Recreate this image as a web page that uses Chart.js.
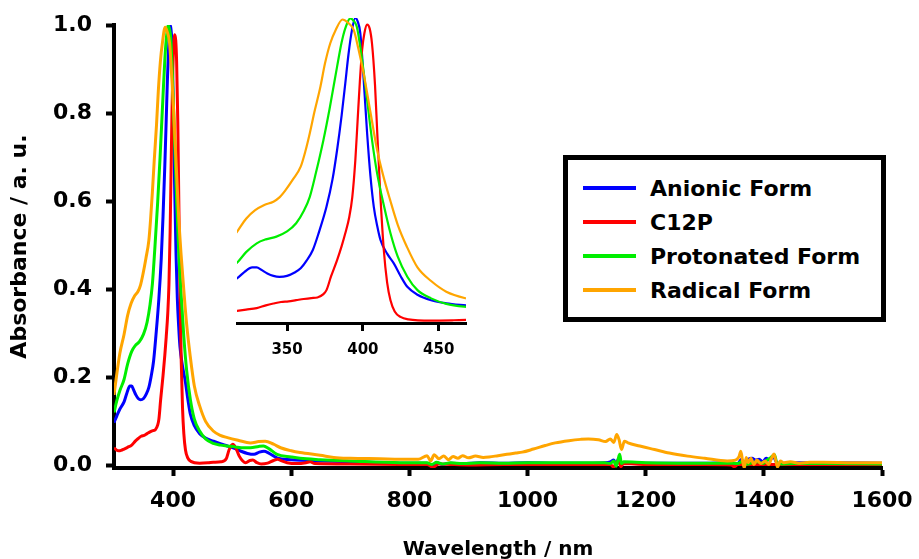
<!DOCTYPE html>
<html><head><meta charset="utf-8">
<script src="https://cdn.jsdelivr.net/npm/chart.js@4.4.1/dist/chart.umd.min.js"></script>
<style>
html,body{margin:0;padding:0;background:#fff;}
#wrap{position:relative;width:919px;height:559px;overflow:hidden;background:#fff;}
#main{position:absolute;left:0;top:0;}
#inset{position:absolute;left:200px;top:0;}
#legend{position:absolute;left:563px;top:155px;width:323px;height:167px;box-sizing:border-box;border:5px solid #000;background:#fff;font:bold 22px "DejaVu Sans";color:#000;}
.row{position:absolute;left:15px;height:34px;display:flex;align-items:center;white-space:nowrap;}
.sw{width:53px;height:4px;margin-right:14px;}
</style>
</head><body>
<div id="wrap">
<canvas id="main" width="919" height="559"></canvas>
<canvas id="inset" width="300" height="370"></canvas>
<div id="legend"></div>
</div>
<script>
// ---------- data ----------
const seriesNames = ['Anionic Form', 'C12P', 'Protonated Form', 'Radical Form'];

const anionicX = [300,305,310,317,322,327,330,333,337,341,345,350,355,359,363,367,371,376,380,383,386,388.4,390.5,392.8,395,396.5,398.3,400.5,402.8,405,407.2,409.5,411.6,416,420.4,425,429.3,436,445,455,468,480,492,505,515,526,537,546,554,562,576,600,649,700,784,830,838,846,856,870,890,920,960,1000,1050,1100,1130,1140,1146,1150,1154,1158,1163,1200,1300,1340,1356,1362,1368,1374,1380,1386,1392,1398,1404,1410,1416,1422,1430,1450,1500,1600];
const anionicY = [0.097,0.113,0.128,0.144,0.165,0.180,0.180,0.172,0.160,0.152,0.149,0.152,0.163,0.177,0.203,0.237,0.295,0.379,0.470,0.566,0.680,0.785,0.880,0.960,1.000,0.990,0.950,0.800,0.621,0.480,0.379,0.315,0.270,0.225,0.193,0.150,0.116,0.090,0.072,0.062,0.055,0.049,0.044,0.038,0.032,0.027,0.025,0.030,0.032,0.028,0.017,0.013,0.010,0.008,0.005,0.005,-0.003,0.006,0.002,0.005,0.004,0.006,0.005,0.006,0.005,0.005,0.006,0.008,0.012,0.002,0.015,0.000,0.006,0.005,0.005,0.006,0.004,0.014,0.002,0.014,0.016,0.012,0.014,0.008,0.016,0.012,0.020,0.006,0.004,0.006,0.006,0.005];

const c12pX = [300,304,308,312,317,323,330,336,341,346,351,356,361,366,370,374,376,379,383,386,388.4,391,393,395,396.5,398,399.5,401,402.8,404.5,406,408,409.5,411.5,413.8,416,418.2,421,424.8,430,445,460,468,481,490,495,501,506,512,518,523,530,535,542,549,560,570,577,584,593,610,625,632,640,700,784,830,840,850,870,900,960,1050,1100,1140,1146,1150,1154,1158,1162,1200,1300,1345,1350,1356,1400,1500,1600];
const c12pY = [0.040,0.035,0.033,0.034,0.037,0.041,0.046,0.055,0.061,0.066,0.068,0.072,0.076,0.079,0.081,0.092,0.105,0.150,0.204,0.250,0.292,0.345,0.410,0.530,0.660,0.790,0.895,0.950,0.978,0.965,0.917,0.780,0.621,0.420,0.237,0.130,0.072,0.035,0.017,0.009,0.005,0.006,0.007,0.008,0.015,0.036,0.048,0.040,0.021,0.010,0.006,0.011,0.012,0.006,0.003,0.005,0.011,0.014,0.010,0.006,0.004,0.006,0.008,0.004,0.003,0.002,0.002,-0.004,0.003,0.002,0.001,0.002,0.002,0.002,0.002,-0.004,0.006,0.010,-0.003,0.004,0.002,0.002,0.001,-0.003,0.002,0.002,0.002,0.002];

const protonatedX = [300,305,310,317,323,330,336,343,350,356,361,365,369,374,378,383,386,388.4,391.7,394,396,399,402.8,406,409.4,414,418.2,423,429.3,436,445,455,468,480,492,505,515,531,545,553,562,576,600,615,649,700,784,830,838,846,856,870,890,920,960,1000,1050,1100,1130,1140,1146,1150,1153,1156,1159,1163,1200,1300,1340,1356,1362,1370,1380,1390,1398,1406,1412,1418,1422,1430,1450,1500,1600];
const protonatedY = [0.120,0.148,0.170,0.195,0.230,0.259,0.272,0.281,0.298,0.325,0.365,0.412,0.490,0.599,0.700,0.840,0.920,0.966,0.999,0.990,0.971,0.880,0.730,0.600,0.489,0.380,0.292,0.215,0.149,0.105,0.078,0.060,0.050,0.046,0.044,0.042,0.040,0.040,0.043,0.044,0.038,0.025,0.019,0.016,0.013,0.010,0.006,0.006,0.002,0.007,0.003,0.006,0.004,0.006,0.005,0.006,0.006,0.006,0.006,0.004,0.010,-0.002,0.012,0.025,0.004,0.008,0.006,0.005,0.005,0.004,0.008,0.002,0.006,0.008,0.004,0.012,0.018,0.024,0.006,0.003,0.004,0.004,0.003];

const radicalX = [300,305,310,317,323,329,335,341,345,349,354,359,362,365,368,372,375,378.5,382,386.6,390,394,397,400.5,405,409.4,413.5,418,423,429,436,445,455,468,480,492,510,531,545,556,570,582,600,615,649,672,700,750,784,815,830,836,842,850,858,866,874,882,890,900,912,925,935,950,965,980,991,1010,1030,1047,1070,1090,1103,1120,1132,1140,1146,1151,1155,1159,1164,1170,1190,1215,1240,1271,1300,1338,1352,1358,1361,1364,1367,1370,1374,1378,1383,1388,1395,1402,1408,1413,1417,1420,1423,1428,1434,1445,1460,1478,1500,1550,1600];
const radicalY = [0.160,0.210,0.255,0.297,0.340,0.368,0.385,0.396,0.410,0.434,0.470,0.511,0.560,0.621,0.690,0.774,0.850,0.917,0.960,0.995,0.985,0.960,0.900,0.818,0.690,0.566,0.480,0.401,0.320,0.248,0.180,0.135,0.100,0.078,0.068,0.063,0.057,0.051,0.054,0.055,0.048,0.040,0.033,0.029,0.023,0.018,0.016,0.015,0.014,0.014,0.022,0.010,0.024,0.015,0.021,0.013,0.020,0.016,0.022,0.017,0.021,0.018,0.019,0.022,0.025,0.028,0.030,0.037,0.045,0.051,0.056,0.059,0.060,0.058,0.054,0.060,0.052,0.070,0.058,0.036,0.055,0.051,0.044,0.036,0.028,0.021,0.016,0.010,0.012,0.020,0.032,0.010,-0.006,0.018,0.006,0.016,0.002,0.012,0.004,0.010,0.002,0.016,0.026,0.012,-0.004,0.010,0.006,0.008,0.005,0.007,0.007,0.006,0.006];

const xTickValues = [400, 600, 800, 1000, 1200, 1400, 1600];
const yTickValues = [0.0, 0.2, 0.4, 0.6, 0.8, 1.0];
const insetTickValues = [350, 400, 450];

// ---------- build ----------
const seriesX = [anionicX, c12pX, protonatedX, radicalX];
const seriesY = [anionicY, c12pY, protonatedY, radicalY];
const colors = ['#0000ff', '#ff0000', '#00ee00', '#ffa500'];
const drawOrder = [4, 3, 2, 1];

function toXY(xs, ys) { return xs.map((x, i) => ({x: x, y: ys[i]})); }
function makeDatasets(width) {
  return seriesNames.map((n, i) => ({
    label: n, data: toXY(seriesX[i], seriesY[i]), borderColor: colors[i],
    borderWidth: width, pointRadius: 0, fill: false, order: drawOrder[i],
    cubicInterpolationMode: 'monotone'
  }));
}
const FONT = 'DejaVu Sans';

new Chart(document.getElementById('main'), {
  type: 'line',
  data: {datasets: makeDatasets(3)},
  options: {
    responsive: false, animation: false, devicePixelRatio: 1,
    layout: {padding: {left: 0, right: 37, top: 25, bottom: 0}},
    plugins: {legend: {display: false}, tooltip: {enabled: false}},
    scales: {
      x: {
        type: 'linear', min: 300, max: 1600,
        afterBuildTicks: s => { s.ticks = xTickValues.map(v => ({value: v})); },
        afterFit: s => { s.height = 91; s.paddingLeft = 0; s.paddingRight = 0; },
        grid: {drawOnChartArea: false, drawTicks: true, tickLength: 8, tickWidth: 4, tickColor: '#000'},
        border: {display: true, color: '#000', width: 4},
        ticks: {color: '#000', font: {family: FONT, weight: 'bold', size: 22}, padding: 12, maxRotation: 0, autoSkip: false, callback: v => String(v)},
        title: {display: true, text: 'Wavelength / nm', color: '#000', font: {family: FONT, weight: 'bold', size: 20}, padding: {top: 0, bottom: -3}}
      },
      y: {
        type: 'linear', min: -0.006, max: 1.0,
        afterBuildTicks: s => { s.ticks = yTickValues.map(v => ({value: v})); },
        afterFit: s => { s.width = 114; s.paddingTop = 0; s.paddingBottom = 0; },
        grid: {drawOnChartArea: false, drawTicks: true, tickLength: 8, tickWidth: 4, tickColor: '#000'},
        border: {display: true, color: '#000', width: 4},
        ticks: {color: '#000', font: {family: FONT, weight: 'bold', size: 22}, padding: 14, callback: v => v.toFixed(1)},
        title: {display: true, text: 'Absorbance / a. u.', color: '#000', font: {family: FONT, weight: 'bold', size: 22}, padding: {top: 7, bottom: 0}}
      }
    }
  }
});

new Chart(document.getElementById('inset'), {
  type: 'line',
  data: {datasets: makeDatasets(2.2)},
  options: {
    responsive: false, animation: false, devicePixelRatio: 1,
    layout: {padding: {left: 37, right: 34, top: 18, bottom: 0}},
    plugins: {legend: {display: false}, tooltip: {enabled: false}},
    scales: {
      x: {
        type: 'linear', min: 317, max: 468,
        afterBuildTicks: s => { s.ticks = insetTickValues.map(v => ({value: v})); },
        afterFit: s => { s.height = 47; s.paddingLeft = 0; s.paddingRight = 0; },
        grid: {drawOnChartArea: false, drawTicks: true, tickLength: 8, tickWidth: 3, tickColor: '#000'},
        border: {display: true, color: '#000', width: 3},
        ticks: {color: '#000', font: {family: FONT, weight: 'bold', size: 15}, padding: 10, maxRotation: 0, autoSkip: false, callback: v => String(v)}
      },
      y: {type: 'linear', min: -0.003, max: 1.0, display: false}
    }
  }
});

// legend (HTML)
const lg = document.getElementById('legend');
seriesNames.forEach((n, i) => {
  const r = document.createElement('div');
  r.className = 'row';
  r.style.top = (11 + i * 34) + 'px';
  const sw = document.createElement('div');
  sw.className = 'sw';
  sw.style.background = colors[i];
  const t = document.createElement('span');
  t.textContent = n;
  r.appendChild(sw); r.appendChild(t);
  lg.appendChild(r);
});
</script>
</body></html>
